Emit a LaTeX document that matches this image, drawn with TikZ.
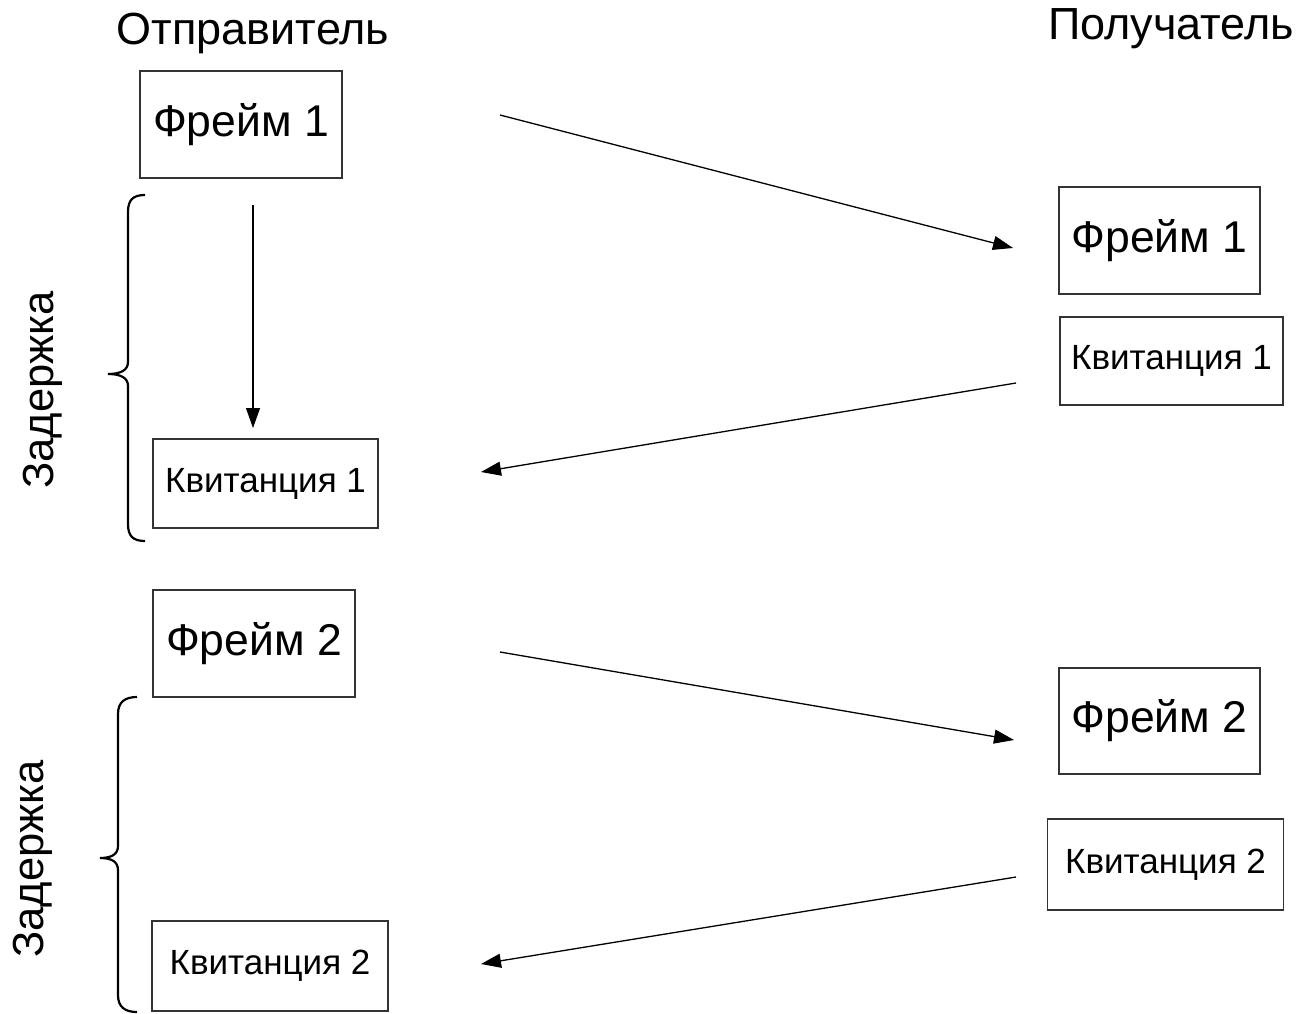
\documentclass[tikz,border=0pt]{standalone}
\usepackage{fontspec}
\setmainfont{Liberation Sans}
\usetikzlibrary{arrows.meta}
\begin{document}
\begin{tikzpicture}[x=1pt,y=-1pt,
  box/.style={draw=black!80,line width=1.3pt,inner sep=0pt,align=center},
  bigtxt/.style={font=\fontsize{44.5}{48}\selectfont},
  smalltxt/.style={font=\fontsize{35}{38}\selectfont},
  headtxt/.style={font=\fontsize{45}{48}\selectfont,anchor=base},
  msg/.style={line width=1.3pt,-{Triangle[length=20pt,width=14pt]}},
  delay/.style={line width=2.2pt},
  delaytxt/.style={font=\fontsize{43.5}{48}\selectfont,rotate=90}]
\useasboundingbox[fill=white] (0,0) rectangle (1303,1014);

% column headings
\node[headtxt] (snd) at (253,45) {Отправитель};
\node[headtxt] (rcv) at (1171,40) {Получатель};

% sender side
\node[box,bigtxt,minimum width=202pt,minimum height=107pt] (sf1) at (241,124.5) {Фрейм 1};
\node[box,smalltxt,minimum width=225pt,minimum height=89pt] (sa1) at (265.5,483.5) {Квитанция 1};
\node[box,bigtxt,minimum width=202pt,minimum height=107pt] (sf2) at (254,643.5) {Фрейм 2};
\node[box,smalltxt,minimum width=236pt,minimum height=90pt] (sa2) at (270,966) {Квитанция 2};

% receiver side
\node[box,bigtxt,minimum width=201pt,minimum height=107pt] (rf1) at (1159.5,240.5) {Фрейм 1};
\node[box,smalltxt,minimum width=223pt,minimum height=88pt] (ra1) at (1171.5,361) {Квитанция 1};
\node[box,bigtxt,minimum width=201pt,minimum height=106pt] (rf2) at (1159.5,721) {Фрейм 2};
\node[box,smalltxt,minimum width=236pt,minimum height=91pt] (ra2) at (1165.5,864.5) {Квитанция 2};

% message endpoints
\coordinate (f1out) at (500,115);
\coordinate (f1in) at (1013,248);
\coordinate (a1out) at (1016,383);
\coordinate (a1in) at (481,472);
\coordinate (f2out) at (500,652);
\coordinate (f2in) at (1014,740);
\coordinate (a2out) at (1016,877);
\coordinate (a2in) at (481,964);
\coordinate (wtop) at (253,205);
\coordinate (wbot) at (253,428);

\draw[msg] (f1out) -- (f1in);
\draw[msg] (a1out) -- (a1in);
\draw[msg] (f2out) -- (f2in);
\draw[msg] (a2out) -- (a2in);
\draw[msg] (wtop) -- (wbot);

% delay braces
\draw[delay] (145,195) .. controls (133,195) and (128,200) .. (128,212)
  -- (128,362) .. controls (128,370) and (121,374) .. (108,374)
  .. controls (121,374) and (128,378) .. (128,386)
  -- (128,524) .. controls (128,536) and (133,541) .. (145,541);
\draw[delay] (137,697) .. controls (125,697) and (118,702) .. (118,714)
  -- (118,846) .. controls (118,854) and (112,858) .. (100,858)
  .. controls (112,858) and (118,862) .. (118,870)
  -- (118,995) .. controls (118,1007) and (125,1012) .. (137,1012);
\node[delaytxt] (dl1) at (43,390) {Задержка};
\node[delaytxt] (dl2) at (33,859) {Задержка};
\end{tikzpicture}
\end{document}
